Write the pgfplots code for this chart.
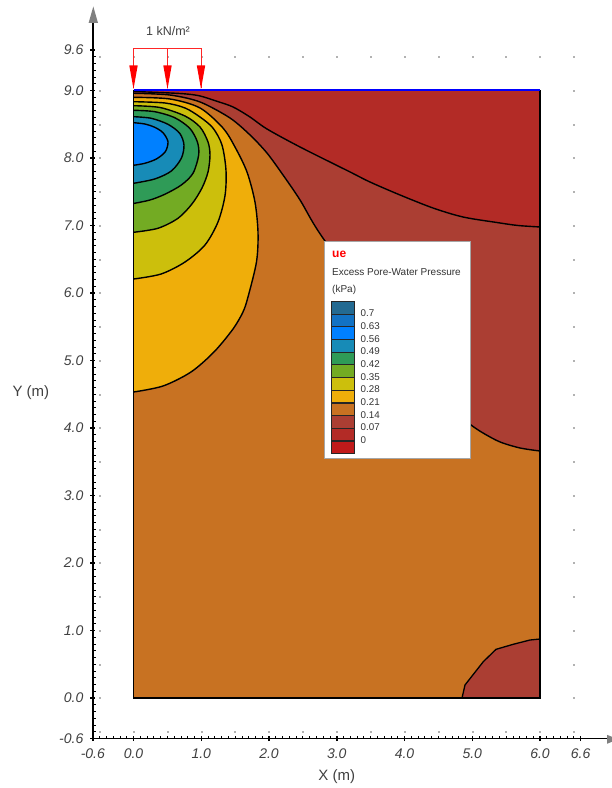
\documentclass[border=0pt]{standalone}
\usepackage{fontspec}
\setmainfont{Liberation Sans}
\usepackage{pgfplots}
\pgfplotsset{compat=1.18}
\definecolor{cA}{HTML}{B32B26}
\definecolor{cB}{HTML}{AB3E33}
\definecolor{cC}{HTML}{C87222}
\definecolor{cD}{HTML}{EFAE0A}
\definecolor{cE}{HTML}{CCBF0C}
\definecolor{cF}{HTML}{73AB23}
\definecolor{cG}{HTML}{2F9B57}
\definecolor{cH}{HTML}{178BB7}
\definecolor{cI}{HTML}{0080FF}
\definecolor{cJ}{HTML}{1272C4}
\definecolor{cK}{HTML}{236A92}
\definecolor{cL}{HTML}{C01A1A}
\definecolor{txt}{HTML}{404040}
\begin{document}
\begin{tikzpicture}
\useasboundingbox (0,0) rectangle (612pt,788pt);
\begin{axis}[
  at={(92.85pt,49.5pt)},anchor=south west,
  x=67.75pt,y=67.5pt,
  xmin=-0.6,xmax=6.99,ymin=-0.6,ymax=10.0,
  axis x line=bottom,axis y line=left,
  axis line style={-,black},
  x axis line style={line width=1.5pt},
  y axis line style={line width=2pt},
  clip=false,
  xtick={-0.6,0,1,2,3,4,5,6,6.6},
  xticklabels={-0.6,0.0,1.0,2.0,3.0,4.0,5.0,6.0,6.6},
  ytick={-0.6,0,1,2,3,4,5,6,7,8,9,9.6},
  yticklabels={-0.6,0.0,1.0,2.0,3.0,4.0,5.0,6.0,7.0,8.0,9.0,9.6},
  minor xtick={-0.5,-0.4,-0.3,-0.2,-0.1,0.1,0.2,0.3,0.4,0.5,0.6,0.7,0.8,0.9,1.1,1.2,1.3,1.4,1.5,1.6,1.7,1.8,1.9,2.1,2.2,2.3,2.4,2.5,2.6,2.7,2.8,2.9,3.1,3.2,3.3,3.4,3.5,3.6,3.7,3.8,3.9,4.1,4.2,4.3,4.4,4.5,4.6,4.7,4.8,4.9,5.1,5.2,5.3,5.4,5.5,5.6,5.7,5.8,5.9,6.1,6.2,6.3,6.4,6.5},
  minor ytick={-0.5,-0.4,-0.3,-0.2,-0.1,0.1,0.2,0.3,0.4,0.5,0.6,0.7,0.8,0.9,1.1,1.2,1.3,1.4,1.5,1.6,1.7,1.8,1.9,2.1,2.2,2.3,2.4,2.5,2.6,2.7,2.8,2.9,3.1,3.2,3.3,3.4,3.5,3.6,3.7,3.8,3.9,4.1,4.2,4.3,4.4,4.5,4.6,4.7,4.8,4.9,5.1,5.2,5.3,5.4,5.5,5.6,5.7,5.8,5.9,6.1,6.2,6.3,6.4,6.5,6.6,6.7,6.8,6.9,7.1,7.2,7.3,7.4,7.5,7.6,7.7,7.8,7.9,8.1,8.2,8.3,8.4,8.5,8.6,8.7,8.8,8.9,9.1,9.2,9.3,9.4,9.5},
  tick align=inside,
  major tick length=5pt,minor tick length=3pt,
  tick style={black},
  major tick style={line width=1.5pt},
  minor tick style={line width=0.8pt},
  major x tick style={yshift=-2.5pt},
  major y tick style={xshift=-2.5pt},
  xticklabel style={font=\fontsize{14}{16}\selectfont\itshape,text=txt,yshift=-7pt},
  yticklabel style={font=\fontsize{14}{16}\selectfont\itshape,text=txt,xshift=-6pt},
  xlabel={X (m)},ylabel={Y (m)},
  every axis x label/.style={at={(axis cs:3,-0.6)},anchor=center,yshift=-38pt,font=\fontsize{15}{17}\selectfont,text=txt},
  every axis y label/.style={at={(axis cs:-0.6,4.52)},anchor=center,xshift=-62pt,rotate=0,font=\fontsize{15}{17}\selectfont,text=txt},
]
% grid dots outside the domain
\addplot[only marks,mark=square*,mark size=0.5pt,color=gray!60] coordinates {
(-0.5,-0.5)(-0.5,0)(-0.5,0.5)(-0.5,1)(-0.5,1.5)(-0.5,2)(-0.5,2.5)(-0.5,3)(-0.5,3.5)(-0.5,4)(-0.5,4.5)(-0.5,5)(-0.5,5.5)(-0.5,6)(-0.5,6.5)(-0.5,7)(-0.5,7.5)(-0.5,8)(-0.5,8.5)(-0.5,9)(-0.5,9.5)
(6.5,-0.5)(6.5,0)(6.5,0.5)(6.5,1)(6.5,1.5)(6.5,2)(6.5,2.5)(6.5,3)(6.5,3.5)(6.5,4)(6.5,4.5)(6.5,5)(6.5,5.5)(6.5,6)(6.5,6.5)(6.5,7)(6.5,7.5)(6.5,8)(6.5,8.5)(6.5,9)(6.5,9.5)
(0,-0.5)(0.5,-0.5)(1,-0.5)(1.5,-0.5)(2,-0.5)(2.5,-0.5)(3,-0.5)(3.5,-0.5)(4,-0.5)(4.5,-0.5)(5,-0.5)(5.5,-0.5)(6,-0.5)
(0,9.5)(0.5,9.5)(1,9.5)(1.5,9.5)(2,9.5)(2.5,9.5)(3,9.5)(3.5,9.5)(4,9.5)(4.5,9.5)(5,9.5)(5.5,9.5)(6,9.5)
};
% base band 0.14-0.21
\addplot[fill=cC,draw=none] coordinates {(0,0)(6,0)(6,9)(0,9)} -- cycle;
% bottom-right 0.07-0.14
\addplot[fill=cB,draw=black,line width=1.3pt] coordinates {(4.849,0)(4.893,0.193)(5.163,0.538)(5.351,0.721)(5.606,0.796)(5.852,0.859)(6,0.874)(6,0)} -- cycle;
% 0.07-0.14 upper band
\addplot[fill=cB,draw=none] coordinates {(0,8.959)(0.539,8.933)(0.982,8.830)(1.424,8.593)(1.720,8.341)(1.970,8.074)(2.207,7.748)(2.458,7.378)(2.827,6.770)(3.934,5.304)(4.745,4.237)(4.982,4.044)(5.159,3.926)(5.410,3.793)(5.705,3.704)(6,3.659)(6,9)(0,9)} -- cycle;
\addplot[smooth,draw=black,line width=1.4pt] coordinates {(0,8.959)(0.539,8.933)(0.982,8.830)(1.424,8.593)(1.720,8.341)(1.970,8.074)(2.207,7.748)(2.458,7.378)(2.827,6.770)(3.934,5.304)(4.745,4.237)(4.982,4.044)(5.159,3.926)(5.410,3.793)(5.705,3.704)(6,3.659)};
% 0-0.07 top
\addplot[fill=cA,draw=none] coordinates {(0,8.985)(0.391,8.970)(0.760,8.950)(0.982,8.919)(1.232,8.840)(1.469,8.756)(1.720,8.607)(1.970,8.430)(2.458,8.163)(3.196,7.793)(3.491,7.644)(3.934,7.452)(4.421,7.259)(4.863,7.126)(5.365,7.044)(5.675,7.000)(6,6.978)(6,9)(0,9)} -- cycle;
\addplot[smooth,draw=black,line width=1.4pt] coordinates {(0,8.985)(0.391,8.970)(0.760,8.950)(0.982,8.919)(1.232,8.840)(1.469,8.756)(1.720,8.607)(1.970,8.430)(2.458,8.163)(3.196,7.793)(3.491,7.644)(3.934,7.452)(4.421,7.259)(4.863,7.126)(5.365,7.044)(5.675,7.000)(6,6.978)};
% nested bands
\addplot[smooth,fill=cD,draw=black,line width=1.4pt] coordinates {(0,8.899)(0.539,8.874)(0.982,8.741)(1.321,8.444)(1.498,8.163)(1.675,7.793)(1.793,7.348)(1.838,6.889)(1.815,6.459)(1.690,5.941)(1.616,5.719)(1.469,5.467)(1.188,5.126)(0.849,4.830)(0.435,4.622)(0,4.533)};
\addplot[smooth,fill=cE,draw=black,line width=1.4pt] coordinates {(0,8.834)(0.465,8.815)(0.760,8.741)(0.982,8.607)(1.173,8.444)(1.306,8.193)(1.365,7.820)(1.351,7.444)(1.247,7.052)(1.055,6.711)(0.760,6.459)(0.406,6.281)(0,6.207)};
\addplot[smooth,fill=cF,draw=black,line width=1.4pt] coordinates {(0,8.775)(0.391,8.748)(0.760,8.622)(0.982,8.459)(1.100,8.237)(1.129,8.044)(1.100,7.793)(1.011,7.556)(0.863,7.319)(0.657,7.107)(0.362,6.959)(0,6.899)};
\addplot[smooth,fill=cG,draw=black,line width=1.4pt] coordinates {(0,8.707)(0.313,8.686)(0.608,8.597)(0.830,8.440)(0.942,8.241)(0.962,8.044)(0.878,7.773)(0.706,7.600)(0.461,7.462)(0.244,7.378)(0,7.326)};
\addplot[smooth,fill=cH,draw=black,line width=1.4pt] coordinates {(0,8.612)(0.263,8.588)(0.509,8.499)(0.682,8.366)(0.745,8.193)(0.706,7.996)(0.558,7.807)(0.313,7.689)(0,7.625)};
\addplot[smooth,fill=cI,draw=black,line width=1.4pt] coordinates {(0,8.523)(0.165,8.504)(0.313,8.455)(0.435,8.375)(0.509,8.241)(0.469,8.093)(0.337,7.985)(0.165,7.921)(0,7.892)};
% domain border
\addplot[draw=black,line width=1.7pt] coordinates {(0,9)(0,0)(6,0)(6,9)};
\addplot[draw=blue,line width=2pt] coordinates {(0,9)(6,9)};
\end{axis}
\begin{scope}[x=1pt,y=-1pt,shift={(0,788pt)}]
% axis arrowheads
\fill[gray] (93.3,6.5) -- (98,23) -- (88.6,23) -- cycle;
\fill[gray] (618,739.3) -- (607,734.8) -- (607,743.8) -- cycle;
% load
\draw[red!85!white,line width=0.7pt] (133.5,88) -- (133.5,48.5) -- (201,48.5) -- (201,88);
\draw[red!85!white,line width=0.7pt] (167.5,48.5) -- (167.5,88);
\foreach \a in {133.5,167.5,201}{\fill[red] (\a-4.2,65.5) -- (\a+4.2,65.5) -- (\a,89) -- cycle;}
\node[font=\fontsize{12.5}{14}\selectfont,text=txt,anchor=center] at (168,31.5) {1 kN/m²};
% legend
\filldraw[fill=white,draw=gray!70,line width=0.8pt] (324.5,241) rectangle (470,458);
\node[font=\fontsize{12}{13}\selectfont\bfseries,text=red,anchor=west,inner sep=0pt] at (332,254) {ue};
\node[font=\fontsize{10}{12}\selectfont,text=black!80,anchor=west,inner sep=0pt] at (332,272.5) {Excess Pore-Water Pressure};
\node[font=\fontsize{10}{12}\selectfont,text=black!80,anchor=west,inner sep=0pt] at (332,290) {(kPa)};
\foreach \i/\c in {0/cK,1/cJ,2/cI,3/cH,4/cG,5/cF,6/cE,7/cD,8/cC,9/cB,10/cA,11/cL}{
  \filldraw[fill=\c,draw=black!85,line width=1.1pt] (331.3,301.6+\i*12.67) rectangle (354.8,301.6+\i*12.67+12.67);
}
\foreach \i/\t in {0/0.7,1/0.63,2/0.56,3/0.49,4/0.42,5/0.35,6/0.28,7/0.21,8/0.14,9/0.07,10/0}{
  \node[font=\fontsize{9.8}{12}\selectfont,text=black!80,anchor=west,inner sep=0pt] at (360.5,313.3+\i*12.67) {\t};
}
\end{scope}
\end{tikzpicture}
\end{document}
